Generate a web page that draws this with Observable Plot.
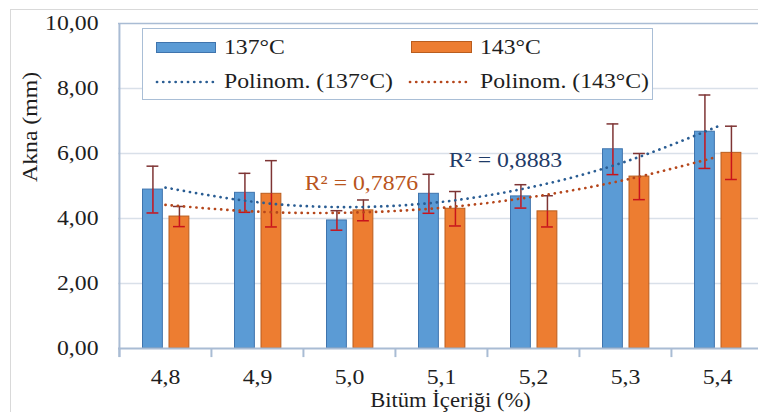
<!DOCTYPE html>
<html><head><meta charset="utf-8">
<script src="https://cdn.jsdelivr.net/npm/d3@7"></script>
<script src="https://cdn.jsdelivr.net/npm/@observablehq/plot@0.6"></script>
<style>
html,body{margin:0;padding:0;background:#fff;overflow:hidden;}
#wrap{position:relative;width:758px;height:412px;overflow:hidden;font-family:"Liberation Serif","Times New Roman",serif;color:#222;}
#outer{position:absolute;left:10px;top:9px;width:800px;height:500px;border-left:1px solid #d9d9d9;border-top:1px solid #d9d9d9;}
#wrap > svg{position:absolute;left:0;top:0;}
#legend{position:absolute;left:142px;top:28px;width:509px;height:70px;border:1px solid #a9bed6;background:#fff;}
#legend .sw{position:absolute;box-sizing:border-box;}
#legend .tx{position:absolute;font-size:21px;line-height:21px;white-space:nowrap;transform:scaleX(1.13);transform-origin:left center;color:#1e1e1e;}
#legend svg{position:absolute;overflow:visible;}
</style>
</head><body>
<div id="wrap"><div id="outer"></div></div>
<script>
// ---- data ----
const categories = ["4,8", "4,9", "5,0", "5,1", "5,2", "5,3", "5,4"];
const akna137 = [4.89, 4.79, 3.94, 4.76, 4.68, 6.13, 6.67];
const err137  = [0.72, 0.60, 0.30, 0.60, 0.36, 0.78, 1.13];
const akna143 = [4.06, 4.76, 4.25, 4.30, 4.22, 5.29, 6.02];
const err143  = [0.31, 1.02, 0.32, 0.53, 0.48, 0.71, 0.82];
const trend137 = [4.95, 4.50, 4.35, 4.51, 4.98, 5.75, 6.83];
const trend143 = [4.42, 4.21, 4.18, 4.33, 4.67, 5.19, 5.90];
const yTicks = [0, 2, 4, 6, 8, 10];
const gridTicks = [2, 4, 6, 8];
const series = ["137°C", "143°C"];
const trendNames = ["Polinom. (137°C)", "Polinom. (143°C)"];
const r2Labels = ["R² = 0,8883", "R² = 0,7876"];
const yTitle = "Akna (mm)";
const xTitle = "Bitüm İçeriği (%)";

const rows137 = categories.map((c, i) => ({cat: c, v: akna137[i], e: err137[i], t: trend137[i]}));
const rows143 = categories.map((c, i) => ({cat: c, v: akna143[i], e: err143[i], t: trend143[i]}));

const C = {
  blue: "#5b9bd5", blueEdge: "#3f74ad", orange: "#ed7d31", orangeEdge: "#b95d1e",
  errUp: "#7e3434", errLo: "#c8141c", tBlue: "#2a5d93", tOrange: "#b5461b",
  axis: "#a9bcd4", grid: "#d9e0e9", text: "#1e1e1e"
};
const X0 = 118, X1 = 763, BW = (X1 - X0) / categories.length;
const FS = 21;
const fmt = d => d.toFixed(2).replace(".", ",");

const chart = Plot.plot({
  width: 758, height: 412,
  marginLeft: 118, marginRight: 0, marginTop: 23, marginBottom: 64,
  x: {domain: categories, range: [X0, X1], padding: 0, axis: null},
  y: {domain: [0, 10], range: [348, 23], axis: null},
  style: {fontFamily: "'Liberation Serif', 'Times New Roman', serif", fontSize: FS + "px", background: "transparent", overflow: "hidden", color: C.text},
  marks: [
    Plot.ruleY(gridTicks, {stroke: C.grid, strokeWidth: 1.4}),
    Plot.ruleY([10], {stroke: C.axis, strokeWidth: 1.6}),
    Plot.barY(rows137, {x: "cat", y: "v", fill: C.blue, stroke: C.blueEdge, strokeWidth: 1, insetLeft: 23.5, insetRight: BW - 43.5}),
    Plot.barY(rows143, {x: "cat", y: "v", fill: C.orange, stroke: C.orangeEdge, strokeWidth: 1, insetLeft: 50, insetRight: BW - 70}),
    // error bars (upper / lower halves)
    Plot.ruleX(rows137, {x: "cat", y1: "v", y2: d => d.v + d.e, dx: 33.5 - BW / 2, stroke: C.errUp, strokeWidth: 1.5}),
    Plot.ruleX(rows137, {x: "cat", y1: d => d.v - d.e, y2: "v", dx: 33.5 - BW / 2, stroke: C.errLo, strokeWidth: 1.5}),
    Plot.tickY(rows137, {x: "cat", y: d => d.v + d.e, insetLeft: 27.5, insetRight: BW - 39.5, stroke: C.errUp, strokeWidth: 1.5}),
    Plot.tickY(rows137, {x: "cat", y: d => d.v - d.e, insetLeft: 27.5, insetRight: BW - 39.5, stroke: C.errLo, strokeWidth: 1.5}),
    Plot.ruleX(rows143, {x: "cat", y1: "v", y2: d => d.v + d.e, dx: 60 - BW / 2, stroke: C.errUp, strokeWidth: 1.5}),
    Plot.ruleX(rows143, {x: "cat", y1: d => d.v - d.e, y2: "v", dx: 60 - BW / 2, stroke: C.errLo, strokeWidth: 1.5}),
    Plot.tickY(rows143, {x: "cat", y: d => d.v + d.e, insetLeft: 54, insetRight: BW - 66, stroke: C.errUp, strokeWidth: 1.5}),
    Plot.tickY(rows143, {x: "cat", y: d => d.v - d.e, insetLeft: 54, insetRight: BW - 66, stroke: C.errLo, strokeWidth: 1.5}),
    // axes lines and category boundary ticks
    Plot.ruleY([0], {stroke: C.axis, strokeWidth: 2}),
    Plot.ruleX(categories, {x: d => d, dx: -BW / 2, y1: -0.28, y2: 0, stroke: C.axis, strokeWidth: 2}),
    Plot.ruleX([categories[0]], {x: d => d, dx: -BW / 2, y1: -0.28, y2: 10, stroke: C.axis, strokeWidth: 2}),
    // polynomial trend lines
    Plot.line(rows137, {x: "cat", y: "t", curve: "natural", stroke: C.tBlue, strokeWidth: 2.7, strokeDasharray: "0.1 6.1", strokeLinecap: "round"}),
    Plot.line(rows143, {x: "cat", y: "t", curve: "natural", stroke: C.tOrange, strokeWidth: 2.7, strokeDasharray: "0.1 6.1", strokeLinecap: "round"}),
    // axes
    Plot.axisY({ticks: yTicks, tickSize: 0, tickPadding: 20, tickFormat: fmt, label: null, fill: C.text}),
    Plot.axisX({tickSize: 0, tickPadding: 21, label: null, fill: C.text}),
    // R² annotations
    Plot.text([r2Labels[0]], {x: () => categories[4], y: () => 5.78, dx: -28, text: d => d, fill: "#1f3b68", lineAnchor: "middle"}),
    Plot.text([r2Labels[1]], {x: () => categories[2], y: () => 5.09, dx: 12, text: d => d, fill: "#b9551d", lineAnchor: "middle"}),
    // titles
    Plot.text([yTitle], {frameAnchor: "left", rotate: -90, dx: -88, dy: -4, lineAnchor: "middle", text: d => d, fill: C.text}),
    Plot.text([xTitle], {frameAnchor: "bottom", dx: 12, dy: 52, lineAnchor: "middle", fontSize: 20, text: d => d, fill: C.text})
  ]
});

const wrap = document.getElementById("wrap");
wrap.appendChild(chart);

// legend (inside plot area, like the original)
const leg = document.createElement("div");
leg.id = "legend";
const dotLine = (color) => `<svg width="60" height="6" viewBox="0 0 60 6"><line x1="1" y1="3" x2="58" y2="3" stroke="${color}" stroke-width="2.7" stroke-dasharray="0.1 6.1" stroke-linecap="round"/></svg>`;
leg.innerHTML = `
  <div class="sw" style="left:13px;top:13px;width:60px;height:11px;background:${C.blue};border:1px solid ${C.blueEdge}"></div>
  <div class="tx" style="left:81px;top:8px">${series[0]}</div>
  <div class="sw" style="left:268px;top:12px;width:61px;height:12px;background:${C.orange};border:1px solid ${C.orangeEdge}"></div>
  <div class="tx" style="left:337px;top:8px">${series[1]}</div>
  <div style="position:absolute;left:13px;top:50px;">${dotLine(C.tBlue)}</div>
  <div class="tx" style="left:81px;top:42px">${trendNames[0]}</div>
  <div style="position:absolute;left:266px;top:50px;">${dotLine(C.tOrange)}</div>
  <div class="tx" style="left:337px;top:42px">${trendNames[1]}</div>`;
wrap.appendChild(leg);

// widen the serif glyphs a little, like the stretched original
chart.querySelectorAll("text").forEach(t => {
  const len = t.getComputedTextLength();
  if (len > 0) {
    t.setAttribute("textLength", (len * 1.13).toFixed(1));
    t.setAttribute("lengthAdjust", "spacingAndGlyphs");
  }
});
</script>
</body></html>
